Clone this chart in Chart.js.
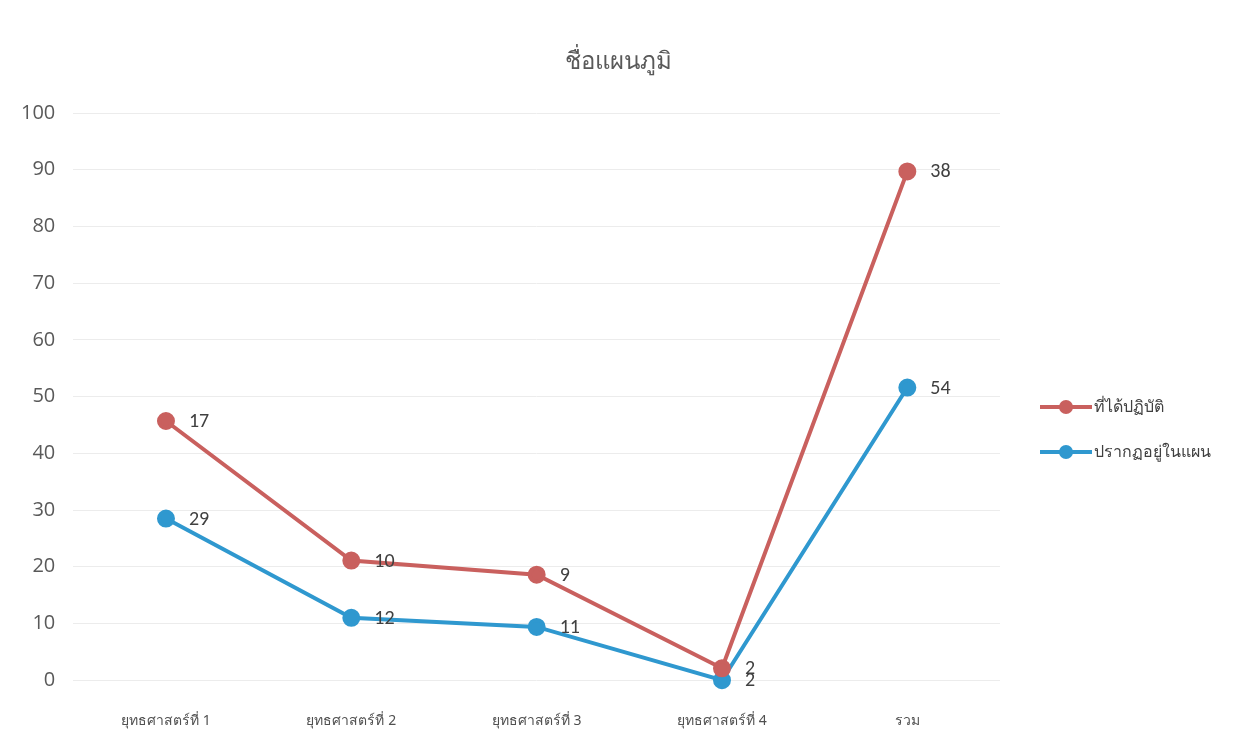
<!DOCTYPE html>
<html>
<head>
<meta charset="utf-8">
<script src="https://cdn.jsdelivr.net/npm/chart.js@4.4.0/dist/chart.umd.min.js"></script>
<style>
  html, body { margin: 0; padding: 0; background: #fff; }
  #chart { display: block; }
</style>
</head>
<body>
<canvas id="chart" width="1237" height="755"></canvas>
<script>
const categories = ['ยุทธศาสตร์ที่ 1', 'ยุทธศาสตร์ที่ 2', 'ยุทธศาสตร์ที่ 3', 'ยุทธศาสตร์ที่ 4', 'รวม'];

const doneValues = [45.7, 21.1, 18.6, 2.1, 89.7];
const doneLabels = ['17', '10', '9', '2', '38'];

const planValues = [28.5, 11.0, 9.4, 0, 51.6];
const planLabels = ['29', '12', '11', '2', '54'];

const seriesNames = ['ที่ได้ปฏิบัติ', 'ปรากฏอยู่ในแผน'];
const chartTitle = 'ชื่อแผนภูมิ';
const redColor = '#c9605e';
const blueColor = '#2f98cf';

const thaiFont = "'Noto Sans', 'Noto Sans CJK SC', sans-serif";

// title centred on the whole canvas
const pageTitle = {
    id: 'pageTitle',
    afterDraw(chart) {
        const ctx = chart.ctx;
        ctx.save();
        ctx.font = '24px ' + thaiFont;
        ctx.fillStyle = '#595959';
        ctx.textAlign = 'center';
        ctx.textBaseline = 'middle';
        ctx.fillText(chartTitle, chart.width / 2, 62);
        ctx.restore();
    }
};

// data labels to the right of every point
const pointLabels = {
    id: 'pointLabels',
    afterDatasetsDraw(chart) {
        const ctx = chart.ctx;
        ctx.save();
        ctx.font = '20px Calibri, Carlito, "Open Sans", sans-serif';
        ctx.fillStyle = '#404040';
        ctx.textAlign = 'left';
        ctx.textBaseline = 'middle';
        chart.data.datasets.forEach((ds, i) => {
            const meta = chart.getDatasetMeta(i);
            meta.data.forEach((pt, j) => {
                ctx.fillText(ds.pointText[j], pt.x + 23, pt.y + 1);
            });
        });
        ctx.restore();
    }
};

// legend on the right: line with a dot, then the name
const sideLegend = {
    id: 'sideLegend',
    afterDraw(chart) {
        const ctx = chart.ctx;
        ctx.save();
        ctx.font = '16px ' + thaiFont;
        ctx.textBaseline = 'middle';
        ctx.textAlign = 'left';
        chart.data.datasets.forEach((ds, i) => {
            const y = 407 + i * 45;
            const x = 1040;
            ctx.strokeStyle = ds.borderColor;
            ctx.lineWidth = 4;
            ctx.beginPath();
            ctx.moveTo(x, y);
            ctx.lineTo(x + 52, y);
            ctx.stroke();
            ctx.fillStyle = ds.borderColor;
            ctx.beginPath();
            ctx.arc(x + 26, y, 7, 0, Math.PI * 2);
            ctx.fill();
            ctx.fillStyle = '#404040';
            ctx.fillText(ds.label, x + 54, y);
        });
        ctx.restore();
    }
};

new Chart(document.getElementById('chart'), {
    type: 'line',
    data: {
        labels: categories,
        datasets: [{
            label: seriesNames[0],
            data: doneValues,
            pointText: doneLabels,
            borderColor: redColor,
            backgroundColor: redColor,
            borderWidth: 4,
            pointRadius: 7,
            pointHoverRadius: 7,
            tension: 0,
            fill: false,
            clip: false
        }, {
            label: seriesNames[1],
            data: planValues,
            pointText: planLabels,
            borderColor: blueColor,
            backgroundColor: blueColor,
            borderWidth: 4,
            pointRadius: 7,
            pointHoverRadius: 7,
            tension: 0,
            fill: false,
            clip: false
        }]
    },
    options: {
        responsive: false,
        animation: false,
        devicePixelRatio: 1,
        layout: {
            padding: { left: 3, right: 237, top: 113, bottom: 2 }
        },
        plugins: {
            legend: { display: false },
            tooltip: { enabled: false },
            title: { display: false }
        },
        scales: {
            x: {
                offset: true,
                grid: { display: false },
                border: { display: false },
                ticks: {
                    color: '#505050',
                    font: { family: thaiFont, size: 14 },
                    padding: 24,
                    maxRotation: 0
                }
            },
            y: {
                min: 0,
                max: 100,
                border: { display: false },
                grid: { color: '#ececec', lineWidth: 1, drawTicks: false },
                ticks: {
                    stepSize: 10,
                    color: '#595959',
                    font: { family: "'Open Sans', sans-serif", size: 20 },
                    padding: 18
                }
            }
        }
    },
    plugins: [pointLabels, sideLegend, pageTitle]
});
</script>
</body>
</html>
